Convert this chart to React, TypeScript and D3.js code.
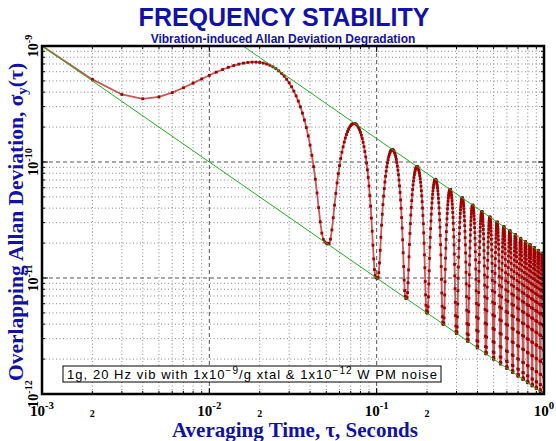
import React from "react";
import * as d3 from "d3";

const xDecades = [-3, -2, -1, 0];
const yDecades = [-12, -11, -10, -9];
const xMinorLabelMultipliers = [2];
const vibrationG = [1]; // 1 g
const vibrationHz = [20]; // 20 Hz
const xtalSensitivity = [1e-9]; // per g
const pmNoiseLevel = [1e-12]; // white PM noise
const tauSampleCount = [1000];
const tauSampleStep = [1e-3];

const W = 556;
const H = 441;
const L = 42, R = 544, T = 46, B = 394;

const blue = "#1212a8";

const x = d3.scaleLog().domain([1e-3, 1]).range([L, R]);
const y = d3.scaleLog().domain([1e-12, 1e-9]).range([B, T]);

const peakDev = vibrationG[0] * xtalSensitivity[0];
const fm = vibrationHz[0];
const pm = pmNoiseLevel[0];
const taus = d3.range(1, tauSampleCount[0] + 1).map((n) => n * tauSampleStep[0]);
const vibSigma = (t: number) => {
  const a = Math.PI * fm * t;
  return (peakDev * Math.sin(a) ** 2) / a;
};
const pmSigma = (t: number) => pm / t;
const curve = taus.map((t) => ({ t, s: Math.sqrt(vibSigma(t) ** 2 + pmSigma(t) ** 2) }));
const envelope = (t: number) => peakDev / (Math.PI * fm * t);

const minorVals = (decs: number[]) => {
  const out: number[] = [];
  decs.slice(0, -1).forEach((d) => {
    for (let m = 2; m <= 9; m++) out.push(m * Math.pow(10, d));
  });
  return out;
};

const Pow = ({ exp, fs }: { exp: string; fs: number }) => (
  <>
    10
    <tspan dy={-fs * 0.45} fontSize={fs * 0.72}>
      {exp}
    </tspan>
  </>
);

export default function App() {
  const xMinor = minorVals(xDecades);
  const yMinor = minorVals(yDecades);
  const xMajor = xDecades.map((d) => Math.pow(10, d));
  const yMajor = yDecades.map((d) => Math.pow(10, d));

  const line = d3
    .line<{ t: number; s: number }>()
    .x((d) => x(d.t))
    .y((d) => y(d.s));

  const gLine = d3
    .line<number>()
    .x((t) => x(t))
    .y((t) => y(pmSigma(t)));
  const envStart = peakDev / (Math.PI * fm * 1e-9);
  const eLine = d3
    .line<number>()
    .x((t) => x(t))
    .y((t) => y(envelope(t)));

  const serif = "'Liberation Serif', 'Times New Roman', serif";
  const sans = "'Liberation Sans', Arial, Helvetica, sans-serif";

  return (
    <svg width={W} height={H} style={{ position: "absolute", left: 0, top: 0 }}>
      <rect x={0} y={0} width={W} height={H} fill="#fff" />
      <defs>
        <clipPath id="plot">
          <rect x={L} y={T} width={R - L} height={B - T} />
        </clipPath>
      </defs>

      {/* title */}
      <text x={284} y={26} textAnchor="middle" fontFamily={sans} fontWeight="bold" fontSize={25} fill={blue}>
        FREQUENCY STABILITY
      </text>
      <text x={283} y={43} textAnchor="middle" fontFamily={sans} fontWeight="bold" fontSize={12} fill={blue}>
        Vibration-induced Allan Deviation Degradation
      </text>

      {/* grid */}
      <g>
        {xMinor.map((v, i) => (
          <line key={"xm" + i} x1={x(v)} x2={x(v)} y1={T} y2={B} stroke="#888" strokeWidth={1} strokeDasharray="1,2.5" />
        ))}
        {yMinor.map((v, i) => (
          <line key={"ym" + i} x1={L} x2={R} y1={y(v)} y2={y(v)} stroke="#888" strokeWidth={1} strokeDasharray="1,2.5" />
        ))}
        {xMajor.map((v, i) => (
          <line key={"xM" + i} x1={x(v)} x2={x(v)} y1={T} y2={B} stroke="#555" strokeWidth={1} strokeDasharray="4,3" />
        ))}
        {yMajor.map((v, i) => (
          <line key={"yM" + i} x1={L} x2={R} y1={y(v)} y2={y(v)} stroke="#555" strokeWidth={1} strokeDasharray="4,3" />
        ))}
      </g>

      {/* curves */}
      <g clipPath="url(#plot)">
        <path d={line(curve) || ""} fill="none" stroke="#b82020" strokeOpacity={0.75} strokeWidth={1.8} />
        {curve.map((d, i) => (
          <rect key={i} x={x(d.t) - 1.4} y={y(d.s) - 1.4} width={2.8} height={2.8} fill="#a00000" />
        ))}
        <path d={gLine([1e-3, 1]) || ""} fill="none" stroke="#22b022" strokeWidth={1} />
        <path d={eLine([envStart, 1]) || ""} fill="none" stroke="#22b022" strokeWidth={1} />
      </g>

      {/* legend */}
      <rect x={63} y={366} width={378} height={16} fill="#fff" stroke="#000" strokeWidth={1} />
      <text x={67} y={379} fontFamily={sans} fontSize={13} fill="#000" letterSpacing={1.05}>
        1g, 20 Hz vib with 1x10
        <tspan dy={-5} fontSize={10}>−9</tspan>
        <tspan dy={5}>/g xtal &amp; 1x10</tspan>
        <tspan dy={-5} fontSize={10}>−12</tspan>
        <tspan dy={5}> W PM noise</tspan>
      </text>

      {/* ticks */}
      <g stroke="#000" strokeWidth={1}>
        {xMinor.map((v, i) => (
          <g key={"xt" + i}>
            <line x1={x(v)} x2={x(v)} y1={B} y2={B - 3} />
            <line x1={x(v)} x2={x(v)} y1={T} y2={T + 3} />
          </g>
        ))}
        {yMinor.map((v, i) => (
          <g key={"yt" + i}>
            <line x1={L} x2={L + 3} y1={y(v)} y2={y(v)} />
            <line x1={R} x2={R - 3} y1={y(v)} y2={y(v)} />
          </g>
        ))}
        {xMajor.map((v, i) => (
          <g key={"xT" + i}>
            <line x1={x(v)} x2={x(v)} y1={B} y2={B - 6} />
            <line x1={x(v)} x2={x(v)} y1={T} y2={T + 6} />
          </g>
        ))}
        {yMajor.map((v, i) => (
          <g key={"yT" + i}>
            <line x1={L} x2={L + 6} y1={y(v)} y2={y(v)} />
            <line x1={R} x2={R - 6} y1={y(v)} y2={y(v)} />
          </g>
        ))}
      </g>

      {/* frame */}
      <rect x={L} y={T} width={R - L} height={B - T} fill="none" stroke="#000" strokeWidth={2.5} />

      {/* x tick labels */}
      {xDecades.map((d, i) => (
        <text key={"xl" + i} x={x(Math.pow(10, d))} y={416} textAnchor="middle" fontFamily={serif} fontWeight="bold" fontSize={15} fill="#000">
          <Pow exp={d === 0 ? "0" : "-" + Math.abs(d)} fs={15} />
        </text>
      ))}
      {xDecades.slice(0, -1).flatMap((d) =>
        xMinorLabelMultipliers.map((m) => (
          <text key={"x2" + d + m} x={x(m * Math.pow(10, d))} y={417} textAnchor="middle" fontFamily={serif} fontWeight="bold" fontSize={10} fill="#000">
            {m}
          </text>
        ))
      )}

      {/* y tick labels */}
      {yDecades.map((d, i) => (
        <text key={"yl" + i} transform={`translate(38,${y(Math.pow(10, d))}) rotate(-90)`} textAnchor="middle" fontFamily={serif} fontWeight="bold" fontSize={14} fill="#000">
          <Pow exp={"-" + Math.abs(d)} fs={14} />
        </text>
      ))}

      {/* axis titles */}
      <text x={295} y={437} textAnchor="middle" fontFamily={serif} fontWeight="bold" fontSize={21} fill={blue}>
        Averaging Time, τ, Seconds
      </text>
      <text transform={`translate(23,${(T + B) / 2 + 2}) rotate(-90)`} textAnchor="middle" fontFamily={serif} fontWeight="bold" fontSize={21.5} fill={blue}>
        Overlapping Allan Deviation, σ
        <tspan dy={4} fontSize={15}>y</tspan>
        <tspan dy={-4}>(τ)</tspan>
      </text>
    </svg>
  );
}
